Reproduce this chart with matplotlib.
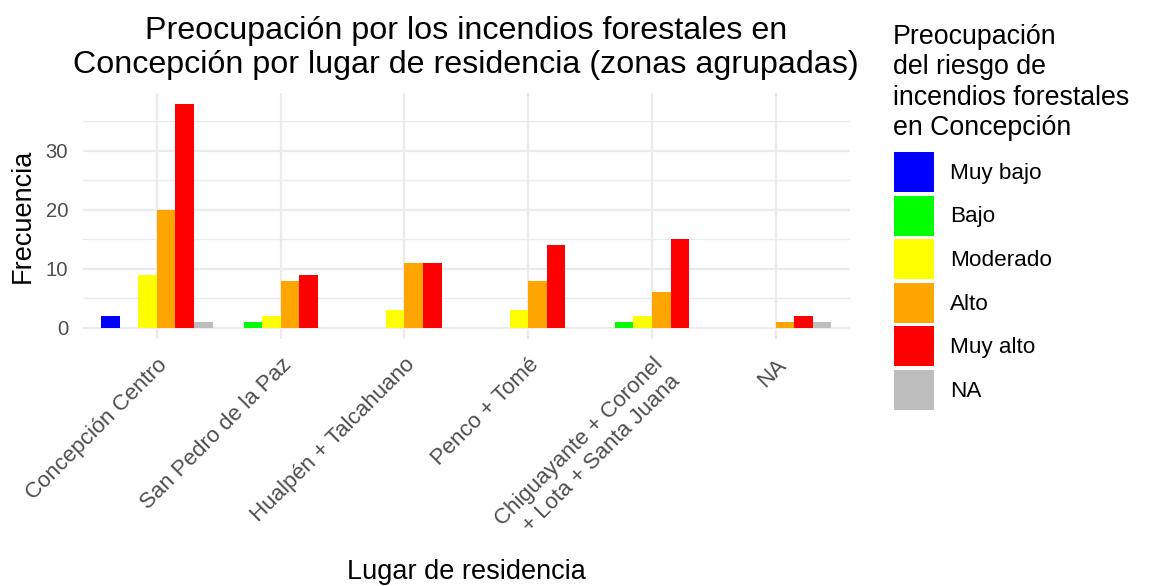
import numpy as np
import matplotlib
matplotlib.use("Agg")
import matplotlib.pyplot as plt
from matplotlib.patches import Patch

plt.rcParams['font.family'] = ['Liberation Sans', 'DejaVu Sans']

lugares = ["Concepción Centro", "San Pedro de la Paz", "Hualpén + Talcahuano",
           "Penco + Tomé", "Chiguayante + Coronel\n+ Lota + Santa Juana", "NA"]
niveles = ["Muy bajo", "Bajo", "Moderado", "Alto", "Muy alto", "NA"]
colores = ["#0000FF", "#00FF00", "#FFFF00", "#FFA500", "#FF0000", "#BEBEBE"]

# frecuencias por nivel (una lista por nivel, en el orden de lugares)
muy_bajo = [2, 0, 0, 0, 0, 0]
bajo     = [0, 1, 0, 0, 1, 0]
moderado = [9, 2, 3, 3, 2, 0]
alto     = [20, 8, 11, 8, 6, 1]
muy_alto = [38, 9, 11, 14, 15, 2]
na_nivel = [1, 0, 0, 0, 0, 1]
series = [muy_bajo, bajo, moderado, alto, muy_alto, na_nivel]

W, H = 1150, 586
fig = plt.figure(figsize=(W/100, H/100), dpi=100)
ax = fig.add_axes([82.6/W, 1-339/H, (850-82.6)/W, (339-92.6)/H])

ancho = 0.15
x = np.arange(len(lugares))
for j, (vals, col, lab) in enumerate(zip(series, colores, niveles)):
    vals = np.array(vals)
    m = vals > 0
    ax.bar(x[m] + (j - 2.5)*ancho, vals[m], width=ancho, color=col, label=lab, zorder=3)

ymax = max(muy_alto)
ax.set_xlim(-0.6, len(lugares) - 0.4)
ax.set_ylim(-0.05*ymax, ymax*1.05)
ax.set_yticks([0, 10, 20, 30])
ax.set_yticks([5, 15, 25, 35], minor=True)
ax.set_xticks(x)
ax.set_xticklabels(lugares, rotation=45, ha='right', va='top', rotation_mode='anchor',
                   multialignment='right', fontsize=16, color='#4D4D4D')
ax.tick_params(axis='y', labelsize=14.6, labelcolor='#4D4D4D', pad=10.5)
ax.tick_params(axis='x', pad=11)
ax.tick_params(which='both', length=0)
ax.grid(True, which='major', color='#EBEBEB', linewidth=1.6, zorder=0)
ax.grid(True, which='minor', axis='y', color='#EBEBEB', linewidth=1.0, zorder=0)
for s in ax.spines.values():
    s.set_visible(False)

ax.set_xlabel("Lugar de residencia", fontsize=19.5)
ax.xaxis.set_label_coords(0.5, -(572-339)/(339-92.6))
ax.xaxis.label.set_va('center')
ax.set_ylabel("Frecuencia", fontsize=19.5)
ax.yaxis.set_label_coords(-(82.6-23)/(850-82.6), 0.5)
ax.yaxis.label.set_va('center')
ax.set_title("Preocupación por los incendios forestales en\nConcepción por lugar de residencia (zonas agrupadas)",
             fontsize=23.2, pad=14, linespacing=1.2)

# leyenda: título aparte y cajas de color
fig.text(893/W, 1-135/H, "Preocupación\ndel riesgo de\nincendios forestales\nen Concepción",
         fontsize=19.3, va='baseline', ha='left', linespacing=1.22)
handles = [Patch(facecolor=c, label=l) for c, l in zip(colores, niveles)]
fig.legend(handles=handles, loc='upper left', bbox_to_anchor=(894/W, 1-152/H),
           fontsize=16.2, frameon=False,
           handlelength=1.78, handleheight=2.36, labelspacing=0.155, handletextpad=0.71,
           borderpad=0, borderaxespad=0)

fig.savefig("out.png", dpi=100, facecolor='white')
